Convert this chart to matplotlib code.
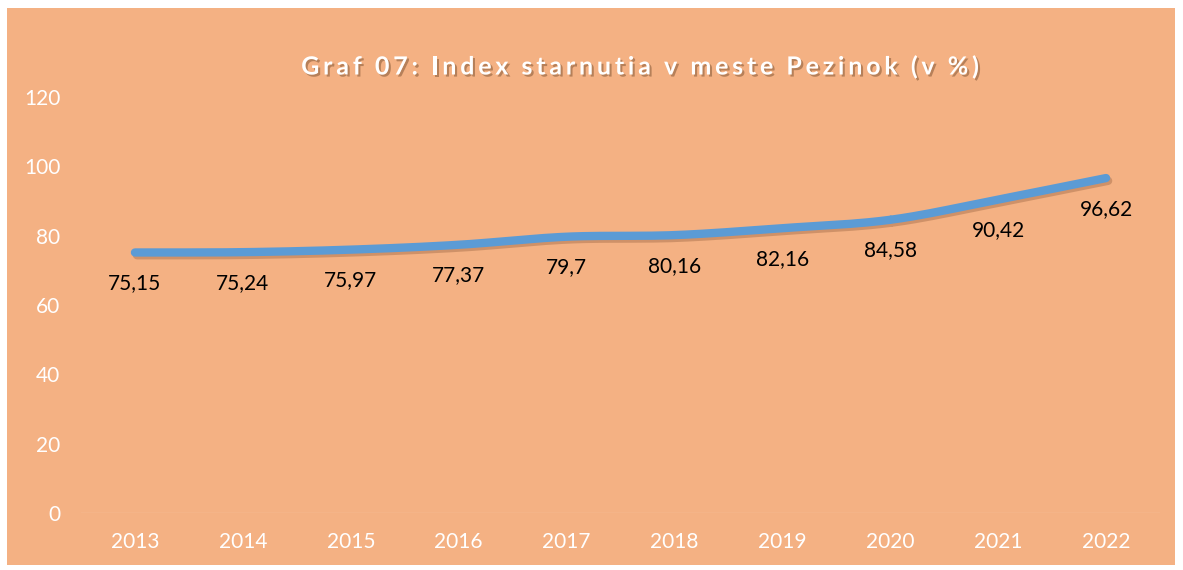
import numpy as np
import matplotlib.pyplot as plt
import matplotlib.patheffects as pe

years = [2013, 2014, 2015, 2016, 2017, 2018, 2019, 2020, 2021, 2022]
index_values = [75.15, 75.24, 75.97, 77.37, 79.7, 80.16, 82.16, 84.58, 90.42, 96.62]
value_labels = ["75,15", "75,24", "75,97", "77,37", "79,7", "80,16", "82,16", "84,58", "90,42", "96,62"]
title = "Graf 07: Index starnutia v meste Pezinok (v %)"

bg = "#F4B183"
line_col = "#5B9BD5"


def smooth(x, y, n=20):
    # Catmull-Rom style curve through the points (like Excel's smoothed line)
    x = np.asarray(x, float)
    y = np.asarray(y, float)
    px = np.concatenate([[2 * x[0] - x[1]], x, [2 * x[-1] - x[-2]]])
    py = np.concatenate([[2 * y[0] - y[1]], y, [2 * y[-1] - y[-2]]])
    xs, ys = [], []
    t = np.linspace(0, 1, n)
    for i in range(1, len(px) - 2):
        for p, out in ((px, xs), (py, ys)):
            p0, p1, p2, p3 = p[i - 1], p[i], p[i + 1], p[i + 2]
            out.extend(0.5 * ((2 * p1) + (-p0 + p2) * t
                              + (2 * p0 - 5 * p1 + 4 * p2 - p3) * t ** 2
                              + (-p0 + 3 * p1 - 3 * p2 + p3) * t ** 3))
    return np.array(xs), np.array(ys)


plt.rcParams['font.family'] = ['Lato', 'DejaVu Sans']

W, H = 1183, 570
fig = plt.figure(figsize=(W / 100, H / 100), dpi=100)
fig.patch.set_facecolor("white")
bgax = fig.add_axes([7 / W, 5 / H, 1168 / W, 557 / H], zorder=0)
bgax.set_facecolor(bg)
bgax.set_xticks([])
bgax.set_yticks([])
for s in bgax.spines.values():
    s.set_visible(False)

ax = fig.add_axes([81 / W, 57 / H, 1079 / W, 416 / H], zorder=1)
ax.patch.set_alpha(0)

xpos = np.arange(len(years))
sx, sy = smooth(xpos, index_values)
ax.plot(sx, sy, color=line_col, lw=6, solid_capstyle='round', zorder=3,
        path_effects=[pe.SimpleLineShadow(offset=(1.5, -2), shadow_color="#7a4a2a", alpha=0.3),
                      pe.Normal()])

for x, v, lab in zip(xpos, index_values, value_labels):
    ax.annotate(lab, (x, v), xytext=(0, -22), textcoords='offset points',
                ha='center', va='center', fontsize=15, color='black', zorder=4)

ax.set_xlim(-0.5, len(years) - 0.5)
ax.set_ylim(0, 120)
ax.set_yticks(range(0, 121, 20))
ax.set_xticks(xpos)
ax.set_xticklabels([str(y) for y in years])
ax.tick_params(colors='white', labelsize=15, length=0, pad=14)
ax.tick_params(axis='y', pad=15)
for s in ax.spines.values():
    s.set_visible(False)
ax.axhline(0, color="#F6C39E", lw=1, zorder=1)

# title with letter spacing: place each character separately
renderer = fig.canvas.get_renderer()
tkw = dict(fontsize=18, fontweight='bold', color='white', va='center', ha='left',
           path_effects=[pe.withSimplePatchShadow(offset=(1.5, -1.5), shadow_rgbFace='#7a5030', alpha=0.5)])
spacing = 3.8
widths = []
for ch in title:
    t = fig.text(0, 0, ch, **tkw)
    widths.append(t.get_window_extent(renderer).width if ch != " " else 5.5)
    t.remove()
total = sum(widths) + spacing * (len(title) - 1)
xcur = 640 - total / 2
for ch, w in zip(title, widths):
    if ch != " ":
        fig.text(xcur / W, 1 - 67 / H, ch, **tkw)
    xcur += w + spacing

fig.savefig("out.png", dpi=100, facecolor=fig.get_facecolor())
